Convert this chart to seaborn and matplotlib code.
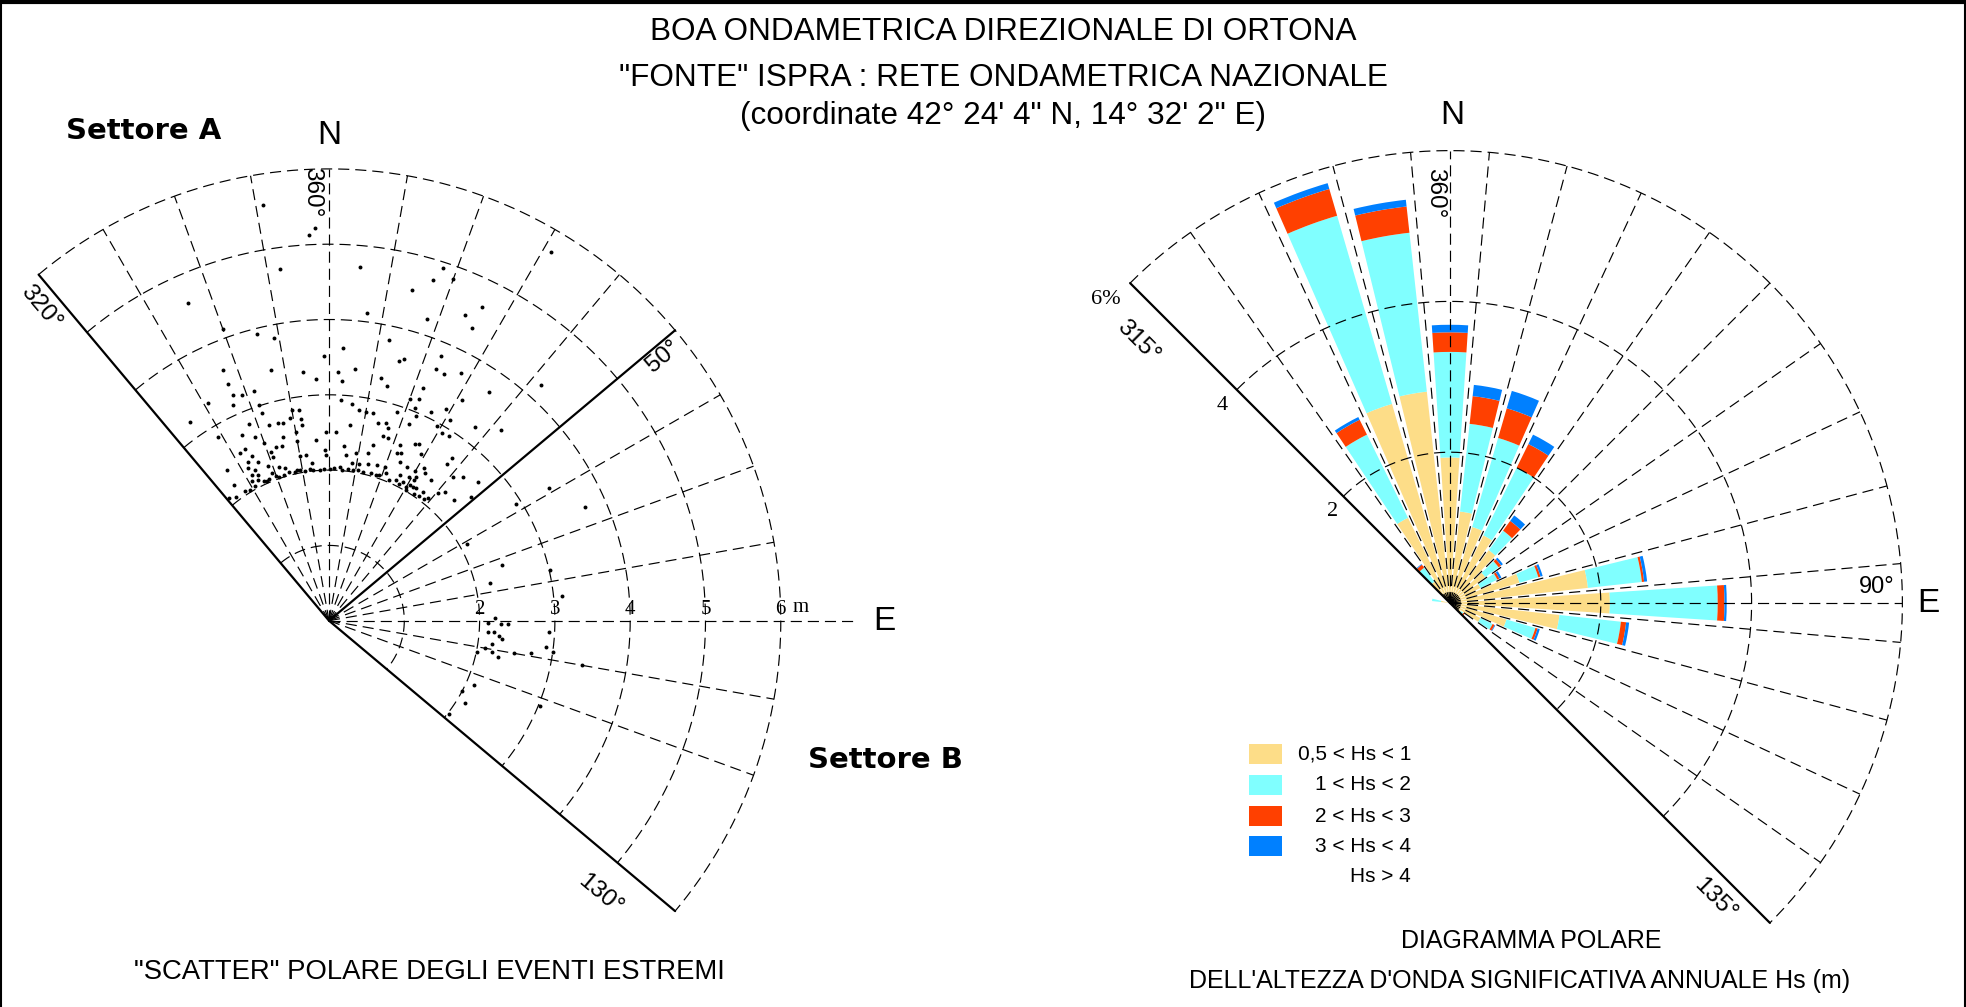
import numpy as np
import matplotlib
matplotlib.use("Agg")
import matplotlib.pyplot as plt
from matplotlib.patches import Rectangle
from matplotlib.lines import Line2D
import seaborn as sns

# ---------------- data ----------------
# "scatter" of extreme events: direction (deg, nautical) and Hs (m)
scatter_dir = [351, 358, 357, 352, 5, 336, 14, 7, 346, 349, 3, 359, 12, 337, 347, 354, 357, 2, 3, 6,
               15, 16, 12, 14, 337, 342, 339, 337, 336, 331, 325, 329, 326, 325, 321, 342, 338, 342, 343, 345.5,
               347, 349, 350, 352, 352, 352, 335, 338, 346, 350, 350, 340, 356, 359, 2, 6, 3, 6, 8, 10,
               12, 14, 16, 17, 18, 18, 22, 23, 22, 22, 20, 14, 5, 6, 9, 13, 11, 14, 17, 20,
               22, 24, 27, 26, 29, 30, 31, 21, 16, 11, 332, 334, 335, 336, 341, 343, 345, 341, 333, 332,
               334, 332, 334, 338.5, 339, 342, 344, 331, 333, 335, 337, 340, 329, 345, 348, 351, 354, 356.5, 0.3, 5,
               358.6, 359, 354, 350, 352, 25.6, 28, 30.6, 31.4, 33.4, 16.4, 21.9, 23.4, 8.2, 340,
               31, 18, 17, 20, 26, 24, 26, 18, 23, 23, 25, 28, 35, 42, 22, 31, 26, 29, 37, 42,
               31, 31, 29, 33, 26, 27, 29, 37, 37, 32, 33, 31, 32, 30, 43, 47, 41, 36, 42, 40.5,
               36, 46, 49, 39,
               59, 66, 58, 61, 72, 77, 77, 84, 89, 91, 91, 91, 94, 94, 95, 96, 98, 100, 101, 102,
               102, 100, 99, 93, 97, 98, 100, 114, 121, 118, 128, 112,
               323, 327, 331, 336, 341, 343, 347, 349, 353, 358, 2, 4, 7, 9, 13, 18, 19, 23, 27, 34,
               36, 38]
scatter_hs = [5.59, 5.22, 5.13, 4.72, 4.71, 4.62, 4.53, 4.12, 3.93, 3.82, 3.62, 3.52, 3.81, 3.61, 3.42, 3.32, 3.21, 3.30, 3.19, 3.36,
              3.57, 3.62, 3.30, 3.21, 3.42, 3.21, 3.21, 3.26, 3.13, 3.31, 3.22, 2.85, 2.42, 2.20, 2.10, 3.01, 2.82, 2.90, 2.72, 2.71,
              2.70, 2.74, 2.84, 2.82, 2.71, 2.62, 2.72, 2.63, 2.52, 2.54, 2.42, 2.51, 2.41, 2.51, 2.51, 2.61, 2.94, 2.90, 2.83, 2.82,
              2.82, 2.70, 2.73, 2.67, 2.55, 2.92, 2.82, 2.95, 3.04, 3.18, 3.14, 2.40, 2.33, 2.21, 2.25, 2.28, 2.12, 2.14, 2.16, 2.17,
              2.40, 2.31, 2.29, 2.15, 2.18, 2.29, 2.10, 2.10, 2.04, 2.04, 2.52, 2.53, 2.42, 2.31, 2.37, 2.41, 2.40, 2.30, 2.37, 2.29,
              2.23, 2.19, 2.15, 2.21, 2.10, 2.15, 2.11, 2.12, 2.09, 2.05, 2.05, 2.04, 2.03, 2.05, 2.05, 2.01, 2.01, 2.00, 2.02, 2.01,
              2.27, 2.20, 2.10, 2.22, 2.22, 2.07, 2.08, 2.02, 2.23, 2.11, 2.55, 2.52, 2.42, 2.12, 4.12,
              5.72, 4.92, 4.73, 4.83, 4.63, 4.44, 4.32, 4.21, 3.82, 3.63, 3.62, 3.73, 3.70, 4.21, 3.33, 3.42, 3.09, 3.21, 3.22, 3.41,
              3.11, 2.91, 2.95, 2.93, 2.61, 2.64, 2.53, 2.71, 2.61, 2.39, 2.34, 2.18, 2.10, 2.05, 2.61, 2.71, 2.52, 2.31, 2.30, 2.23,
              2.12, 2.30, 2.50, 2.09,
              3.41, 3.72, 2.93, 2.10, 2.41, 3.01, 2.20, 3.11, 2.20, 2.11, 2.29, 2.38, 2.12, 2.20, 2.27, 2.31, 2.19, 2.10, 2.20, 2.30,
              2.01, 2.50, 2.71, 2.92, 2.91, 3.00, 3.41, 2.11, 2.11, 2.00, 2.02, 3.02,
              2.06, 2.05, 2.04, 2.03, 2.02, 2.03, 2.02, 2.04, 2.03, 2.02, 2.03, 2.05, 2.03, 2.02, 2.03, 2.04, 2.05, 2.03, 2.04, 2.03,
              2.04, 2.05]

# wave rose: frequency (%) per direction sector and Hs class
rose_dir = [280, 320, 330, 340, 350, 0, 10, 20, 30, 40, 50, 60, 70, 80, 90, 100, 110, 120, 130]
hs_05_1 = [0.12, 0.35, 1.26, 2.75, 2.82, 1.93, 1.22, 1.05, 1.00, 0.87, 0.58, 0.45, 0.96, 1.84, 2.12, 1.46, 0.78, 0.45, 0.18]
hs_1_2 = [0.12, 0.23, 1.23, 2.60, 2.12, 1.40, 1.17, 1.23, 1.00, 0.32, 0.22, 0.25, 0.26, 0.72, 1.43, 0.82, 0.40, 0.18, 0.04]
hs_2_3 = [0.00, 0.05, 0.22, 0.37, 0.35, 0.26, 0.37, 0.41, 0.35, 0.16, 0.04, 0.03, 0.03, 0.03, 0.09, 0.07, 0.03, 0.03, 0.02]
hs_3_4 = [0.00, 0.01, 0.04, 0.08, 0.09, 0.10, 0.15, 0.24, 0.14, 0.09, 0.03, 0.03, 0.03, 0.04, 0.03, 0.04, 0.03, 0.01, 0.00]
class_labels = ["0,5 < Hs < 1", "1 < Hs < 2", "2 < Hs < 3", "3 < Hs < 4", "Hs > 4"]
class_colors = ["#FDDD88", "#80FFFF", "#FF4000", "#0080FF"]

left_rings = [1, 2, 3, 4, 5, 6]
left_ring_labels = ["2", "3", "4", "5", "6"]
right_rings = [2, 4, 6]
right_ring_labels = ["2", "4", "6%"]

# ---------------- figure ----------------
sns.set_theme(style="white")
plt.rcParams["font.family"] = ["Liberation Sans", "DejaVu Sans"]
plt.rcParams["lines.scale_dashes"] = False

W, H = 1966, 1007
fig = plt.figure(figsize=(W / 100, H / 100), dpi=100)
fig.patch.set_facecolor("white")
DASH = (0, (8, 4.3))
SERIF = ["Liberation Serif", "DejaVu Serif"]


def T(x, y, s, **kw):
    kw.setdefault("ha", "center")
    kw.setdefault("va", "center")
    kw.setdefault("color", "black")
    return fig.text(x / W, 1 - y / H, s, rotation_mode="anchor", **kw)


def make_polar(cx, cy, scale, rmax):
    half = rmax * scale
    ax = fig.add_axes([(cx - half) / W, (H - cy - half) / H, 2 * half / W, 2 * half / H],
                      projection="polar")
    ax.set_theta_zero_location("N")
    ax.set_theta_direction(-1)
    ax.set_ylim(0, rmax)
    ax.set_axis_off()
    return ax


rad = np.deg2rad

# ---------------- left: scatter ----------------
axL = make_polar(329, 620.7, 75.3, 7.6)
th = rad(np.linspace(-40, 130, 500))
for r in left_rings:
    axL.plot(th, np.full_like(th, r), color="black", lw=0.85, linestyle=DASH, zorder=3)
for d in range(330, 480, 10):
    dd = d % 360
    if dd == 50:
        continue
    rmax = 7.0 if dd == 90 else 6.0
    axL.plot([rad(dd), rad(dd)], [0, rmax], color="black", lw=0.85, linestyle=DASH, zorder=3)
for dd in [320, 50, 130]:
    axL.plot([rad(dd), rad(dd)], [0, 6], color="black", lw=1.6, zorder=3)

sns.scatterplot(x=rad(np.array(scatter_dir)), y=np.array(scatter_hs), ax=axL, color="black",
                s=8, linewidth=0, legend=False, zorder=4)
axL.set_axis_off()

# ---------------- right: wave rose ----------------
axR = make_polar(1450, 603, 75.4, 6.9)
bottom = np.zeros(len(rose_dir))
for vals, col in zip([hs_05_1, hs_1_2, hs_2_3, hs_3_4], class_colors):
    v = np.array(vals)
    axR.bar(rad(np.array(rose_dir)), v, width=rad(7.5), bottom=bottom, color=col,
            edgecolor="none", linewidth=0, zorder=2)
    bottom = bottom + v
th = rad(np.linspace(-45, 135, 500))
for r in right_rings:
    axR.plot(th, np.full_like(th, r), color="black", lw=0.85, linestyle=DASH, zorder=3)
for d in list(range(325, 360, 10)) + list(range(5, 135, 10)) + [0, 90]:
    axR.plot([rad(d), rad(d)], [0, 6], color="black", lw=0.85, linestyle=DASH, zorder=3)
for d in [315, 135]:
    axR.plot([rad(d), rad(d)], [0, 6], color="black", lw=1.6, zorder=3)
axR.set_axis_off()

# ---------------- texts ----------------
T(1003, 32, "BOA ONDAMETRICA DIREZIONALE DI ORTONA", fontsize=22.7)
T(1003, 78, '"FONTE" ISPRA : RETE ONDAMETRICA NAZIONALE', fontsize=22.7)
T(1003, 116, '(coordinate 42° 24\' 4" N, 14° 32\' 2" E)', fontsize=22.7)

T(144, 131, "Settore A", fontsize=21, fontweight="bold", family=["DejaVu Sans"])
T(885, 760, "Settore B", fontsize=21, fontweight="bold", family=["DejaVu Sans"])

# left labels
T(329, 135, "N", fontsize=24)
T(884, 621, "E", fontsize=24)
T(312, 192, "360°", fontsize=17.5, rotation=-90)
T(41, 307, "320°", fontsize=17.5, rotation=-50)
T(663, 357, "50°", fontsize=17.5, rotation=40)
T(600, 895, "130°", fontsize=17.5, rotation=-40)
for r, lab in zip(left_rings[1:], left_ring_labels):
    T(329 + r * 75.3, 609, lab, fontsize=15, family=SERIF)
T(801, 607, "m", fontsize=15, family=SERIF)

# right labels
T(1452, 116, "N", fontsize=24)
T(1928, 603, "E", fontsize=24)
T(1877, 587, "90°", fontsize=17)
T(1435, 193, "360°", fontsize=17.5, rotation=-90)
T(1138, 342, "315°", fontsize=17.5, rotation=-45)
T(1715, 900, "135°", fontsize=17.5, rotation=-45)
for (x, y), lab in zip([(1333, 511), (1222, 405), (1106, 299)], right_ring_labels):
    T(x, y, lab, fontsize=16, family=SERIF)

# legend
rows_y = [754, 785, 816, 846, 877]
for i, lab in enumerate(class_labels):
    if i < len(class_colors):
        fig.add_artist(Rectangle(((1249) / W, 1 - (rows_y[i] + 10) / H), 33 / W, 20 / H,
                                 transform=fig.transFigure, facecolor=class_colors[i],
                                 edgecolor="none"))
    T(1411, rows_y[i], lab, fontsize=15, ha="right")

# captions
T(429, 972, '"SCATTER" POLARE DEGLI EVENTI ESTREMI', fontsize=19.8)
T(1531, 941, "DIAGRAMMA POLARE", fontsize=18)
T(1520, 981, "DELL'ALTEZZA D'ONDA SIGNIFICATIVA ANNUALE Hs (m)", fontsize=18)

# frame
fig.add_artist(Line2D([0, 1], [1 - 2 / H, 1 - 2 / H], transform=fig.transFigure, color="black", lw=3))
fig.add_artist(Line2D([1 / W, 1 / W], [0, 1], transform=fig.transFigure, color="black", lw=1.5))
fig.add_artist(Line2D([1 - 1 / W, 1 - 1 / W], [0, 1], transform=fig.transFigure, color="black", lw=1.5))

fig.savefig("out.png", dpi=100, facecolor="white")
